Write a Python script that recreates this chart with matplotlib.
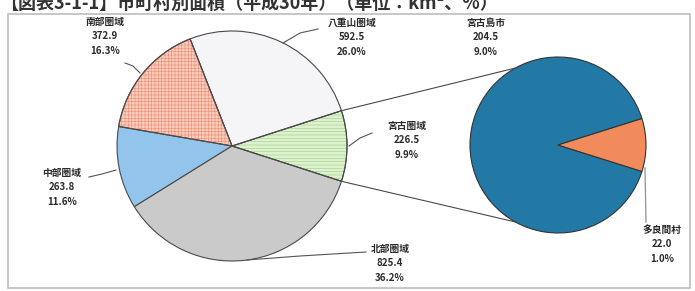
import numpy as np
import matplotlib
matplotlib.use('Agg')
import matplotlib.pyplot as plt
from matplotlib.patches import Wedge, Rectangle

plt.rcParams['font.family'] = ['Noto Sans CJK JP', 'DejaVu Sans']
plt.rcParams['hatch.linewidth'] = 0.4

# 圏域別面積 (km2)
regions = ['宮古圏域', '八重山圏域', '南部圏域', '中部圏域', '北部圏域']
areas = [226.5, 592.5, 372.9, 263.8, 825.4]
shares = ['9.9%', '26.0%', '16.3%', '11.6%', '36.2%']
region_colors = ['#dcf1cd', '#f5f5f7', '#f8cbbb', '#92c4ec', '#cacaca']
region_hatch = ['-----', None, '+++++', None, None]
hatch_colors = ['#9fd07f', None, '#ee8c74', None, None]

# 宮古圏域の内訳
miyako = ['宮古島市', '多良間村']
miyako_areas = [204.5, 22.0]
miyako_shares = ['9.0%', '1.0%']
miyako_colors = ['#2279a5', '#f28b5c']

W, H = 695, 291
fig = plt.figure(figsize=(W / 100, H / 100), dpi=100)
ax = fig.add_axes([0, 0, 1, 1])

def Y(y):
    return H - y

# 枠
ax.add_patch(Rectangle((8, Y(288)), 682, 274, fill=False, ec='#bdbdbd', lw=1.2))

# タイトル (上端が少し切れている)
ax.text(0, Y(3), '【図表3-1-1】市町村別面積（平成30年）（単位：km²、%）', fontsize=13,
        fontweight='bold', color='#333333', ha='left', va='center')

c1 = (232, Y(146))
r1 = 115
frac = areas[0] / sum(areas)
start1 = -frac * 360 / 2
wedges, _ = ax.pie(areas, colors=region_colors, startangle=start1, counterclock=True,
                   center=c1, radius=r1, frame=True,
                   wedgeprops=dict(edgecolor='#4a4a4a', linewidth=0.8))

for w, h, hc in zip(wedges, region_hatch, hatch_colors):
    if h:
        ax.add_patch(Wedge(w.center, w.r, w.theta1, w.theta2, facecolor='none',
                           edgecolor=hc, hatch=h, lw=0, zorder=w.get_zorder() + 0.1))
        ax.add_patch(Wedge(w.center, w.r, w.theta1, w.theta2, facecolor='none',
                           edgecolor='#4a4a4a', lw=0.8, zorder=w.get_zorder() + 0.2))

c2 = (558, Y(145))
r2 = 88
frac2 = miyako_areas[1] / sum(miyako_areas)
wedges2, _ = ax.pie(miyako_areas, colors=miyako_colors, startangle=frac2 * 180,
                    counterclock=True, center=c2, radius=r2, frame=True,
                    wedgeprops=dict(edgecolor='#333333', linewidth=0.8))
ax.set_xlim(0, W)
ax.set_ylim(0, H)
ax.set_aspect('equal')
ax.axis('off')

# 接続線
w0 = wedges[0]
for ang1, ang2 in [(w0.theta2, 119), (w0.theta1, 241)]:
    p1 = (c1[0] + r1 * np.cos(np.radians(ang1)), c1[1] + r1 * np.sin(np.radians(ang1)))
    p2 = (c2[0] + r2 * np.cos(np.radians(ang2)), c2[1] + r2 * np.sin(np.radians(ang2)))
    ax.plot([p1[0], p2[0]], [p1[1], p2[1]], color='#4a4a4a', lw=0.8, zorder=5)

# ラベル
label_pos = {
    '宮古圏域': (407, 121),
    '八重山圏域': (352, 18),
    '南部圏域': (105, 17),
    '中部圏域': (62, 168),
    '北部圏域': (390, 244),
}
leaders = {
    '宮古圏域': [(349, 146), (360, 138), (372, 133)],
    '八重山圏域': [(283, 43), (300, 33), (318, 29)],
    '南部圏域': [(140, 73), (133, 66), (125, 63)],
    '中部圏域': [(116, 170), (102, 174), (89, 177)],
    '北部圏域': [(247, 260), (300, 256), (366, 252)],
}
for name, a, s in zip(regions, areas, shares):
    x, y = label_pos[name]
    ax.text(x, Y(y), f'{name}\n{a:.1f}\n{s}', fontsize=7, fontweight='bold',
            color='#2b2b2b', ha='center', va='top', linespacing=1.55)
    pts = leaders[name]
    ax.plot([p[0] for p in pts], [Y(p[1]) for p in pts], color='#555555', lw=0.8)

miyako_pos = {'宮古島市': (486, 18), '多良間村': (662, 225)}
for name, a, s in zip(miyako, miyako_areas, miyako_shares):
    x, y = miyako_pos[name]
    ax.text(x, Y(y), f'{name}\n{a:.1f}\n{s}', fontsize=7, fontweight='bold',
            color='#2b2b2b', ha='center', va='top', linespacing=1.55)
ax.plot([645, 646], [Y(168), Y(222)], color='#999999', lw=1.0)

fig.savefig('out.png', dpi=100, facecolor='white')
